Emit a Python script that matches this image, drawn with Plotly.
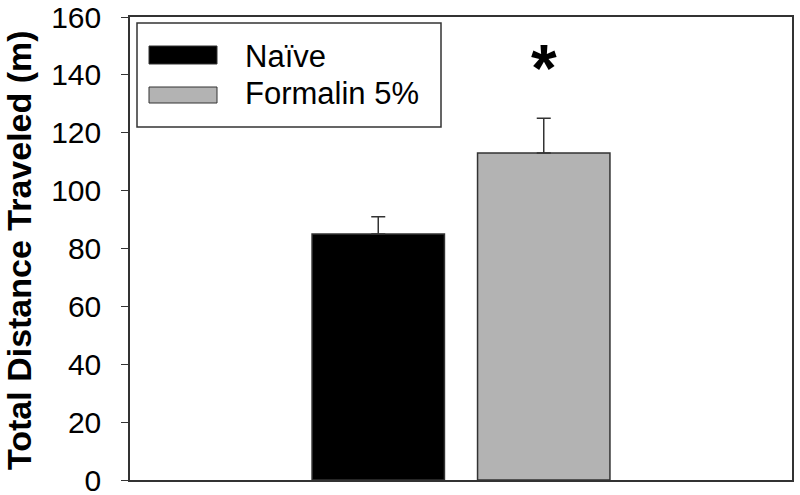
import plotly.graph_objects as go

groups = ["Naïve", "Formalin 5%"]
means = [85, 113]
sems = [6, 12]
colors = ["#000000", "#b3b3b3"]
y_ticks = [0, 20, 40, 60, 80, 100, 120, 140, 160]
x_pos = [1, 2]

FONT = "Liberation Sans, Arial, sans-serif"
PW, PH, L, B = 662, 463, 130, 480  # plot area helpers for paper coords (screen px)


def px(x):
    return (x - L) / PW


def py(y):
    return (B - y) / PH


fig = go.Figure()
for i, g in enumerate(groups):
    fig.add_trace(go.Bar(
        x=[x_pos[i]], y=[means[i]], width=0.8, name=g,
        marker=dict(color=colors[i], line=dict(color="#333333", width=1.5)),
        error_y=dict(type="data", symmetric=False, array=[sems[i]], arrayminus=[0],
                     color="#333333", thickness=1.5, width=7),
        showlegend=False,
    ))

fig.add_annotation(x=x_pos[1], y=means[1] + sems[1] + 20, text="<b>*</b>", showarrow=False,
                   font=dict(size=66, color="black", family=FONT),
                   xref="x", yref="y", yanchor="middle", yshift=-8)

# manual legend
fig.add_shape(type="rect", xref="paper", yref="paper",
              x0=px(137), x1=px(441), y0=py(127), y1=py(23),
              line=dict(color="#333333", width=1.5), fillcolor="white")
leg_rows = [(46, 64), (87, 103)]
text_centers = [55.5, 93]
for i, g in enumerate(groups):
    t, b = leg_rows[i]
    fig.add_shape(type="rect", xref="paper", yref="paper",
                  x0=px(149), x1=px(217), y0=py(b), y1=py(t),
                  line=dict(color="#333333", width=1), fillcolor=colors[i])
    fig.add_annotation(xref="paper", yref="paper", x=px(243), y=py(text_centers[i] + 0.5),
                       text=g, showarrow=False, xanchor="left", yanchor="middle",
                       font=dict(size=31, color="black", family=FONT))

# y-axis title
fig.add_annotation(xref="paper", yref="paper", x=px(19), y=py(250), textangle=-90,
                   text="<b>Total Distance Traveled (m)</b>", showarrow=False,
                   xanchor="center", yanchor="middle",
                   font=dict(size=34, color="black", family=FONT))

fig.update_layout(
    width=800, height=495,
    margin=dict(l=130, r=8, t=17, b=15, autoexpand=False),
    paper_bgcolor="white", plot_bgcolor="white",
    font=dict(family=FONT, color="black"),
    xaxis=dict(range=[-0.5, 3.5], showticklabels=False, ticks="", showgrid=False,
               zeroline=False, showline=True, linecolor="#333333", linewidth=1.5, mirror=True,
               automargin=False),
    yaxis=dict(range=[0, 160], tickvals=y_ticks, ticks="outside", ticklen=7, tickwidth=1,
               tickcolor="#333333", showgrid=False, zeroline=False, showline=True,
               linecolor="#333333", linewidth=1.5, mirror=True, automargin=False,
               ticklabelstandoff=14, ticklabeloverflow="allow",
               tickfont=dict(size=30, color="black")),
)

fig.write_html("out.html", config={"displayModeBar": False},
               post_script="document.body.style.margin='0';document.body.style.overflow='hidden';")
